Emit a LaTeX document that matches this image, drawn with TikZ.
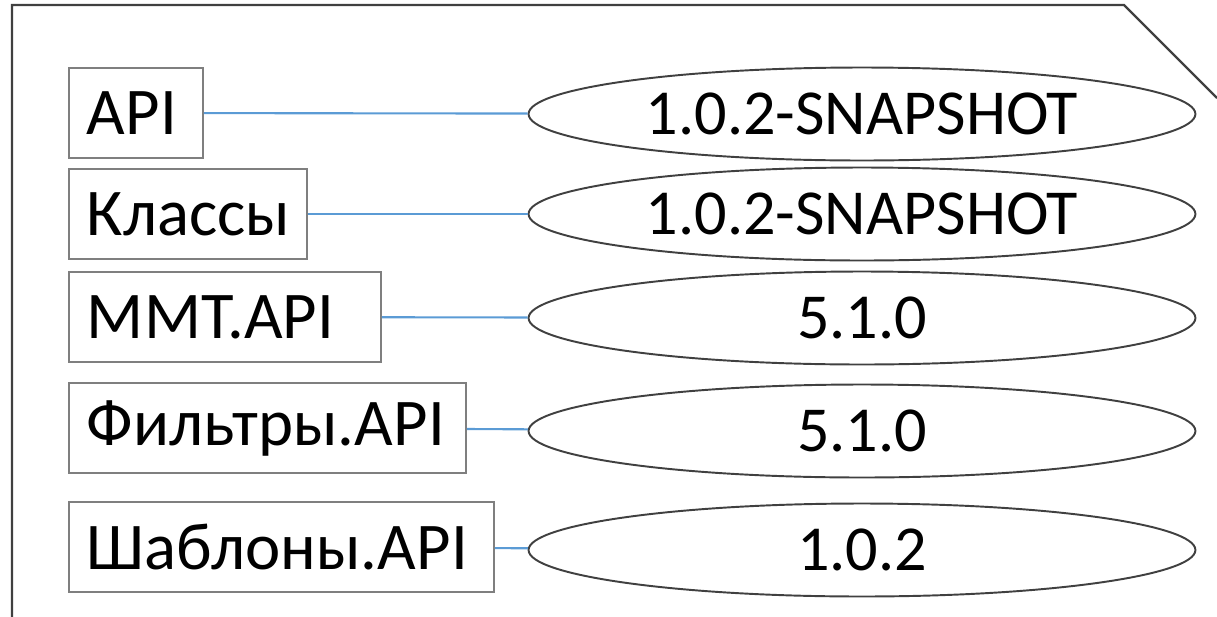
\documentclass[tikz,border=0pt]{standalone}
\usepackage{fontspec}
\setmainfont{Carlito}
\usetikzlibrary{positioning,shapes}

\definecolor{linkblue}{HTML}{5B9BD5}
\definecolor{boxgray}{HTML}{7F7F7F}
\definecolor{edgegray}{HTML}{404040}

\begin{document}
\begin{tikzpicture}[x=0.02cm, y=-0.02cm,
  every node/.style={font=\fontsize{38}{44}\selectfont},
  box/.style={draw=boxgray, line width=1.1pt, anchor=west, minimum height=1.8cm, inner xsep=0.36cm, align=left},
  ver/.style={ellipse, draw=edgegray, line width=1.1pt, minimum width=13.34cm, minimum height=1.86cm, inner sep=0pt, font=\fontsize{36.5}{42}\selectfont},
  link/.style={draw=linkblue, line width=1.2pt}]
\useasboundingbox (0,0) rectangle (1217,616);
\draw[edgegray, line width=1.4pt] (12,620) -- (12,5) -- (1124,5) -- (1217,98);

\node[box, text width=1.96cm] (api) at (68,113) {API};
\node[box, text width=4.04cm] (klassy) at (68,214) {Классы};
\node[box, text width=5.52cm] (mmt) at (68,317) {MMT.API};
\node[box, text width=7.22cm] (filtry) at (68,428) {Фильтры.API};
\node[box, text width=7.78cm] (shablony) at (68,547) {Шаблоны.API};

\node[ver] (v1) at (862,114) {1.0.2-SNAPSHOT};
\node[ver] (v2) at (862,214) {1.0.2-SNAPSHOT};
\node[ver] (v3) at (862,318) {5.1.0};
\node[ver] (v4) at (862,431) {5.1.0};
\node[ver] (v5) at (862,550) {1.0.2};

\draw[link] (api) -- (v1);
\draw[link] (klassy) -- (v2);
\draw[link] (mmt) -- (v3);
\draw[link] (filtry) -- (v4);
\draw[link] (shablony) -- (v5);
\end{tikzpicture}
\end{document}
